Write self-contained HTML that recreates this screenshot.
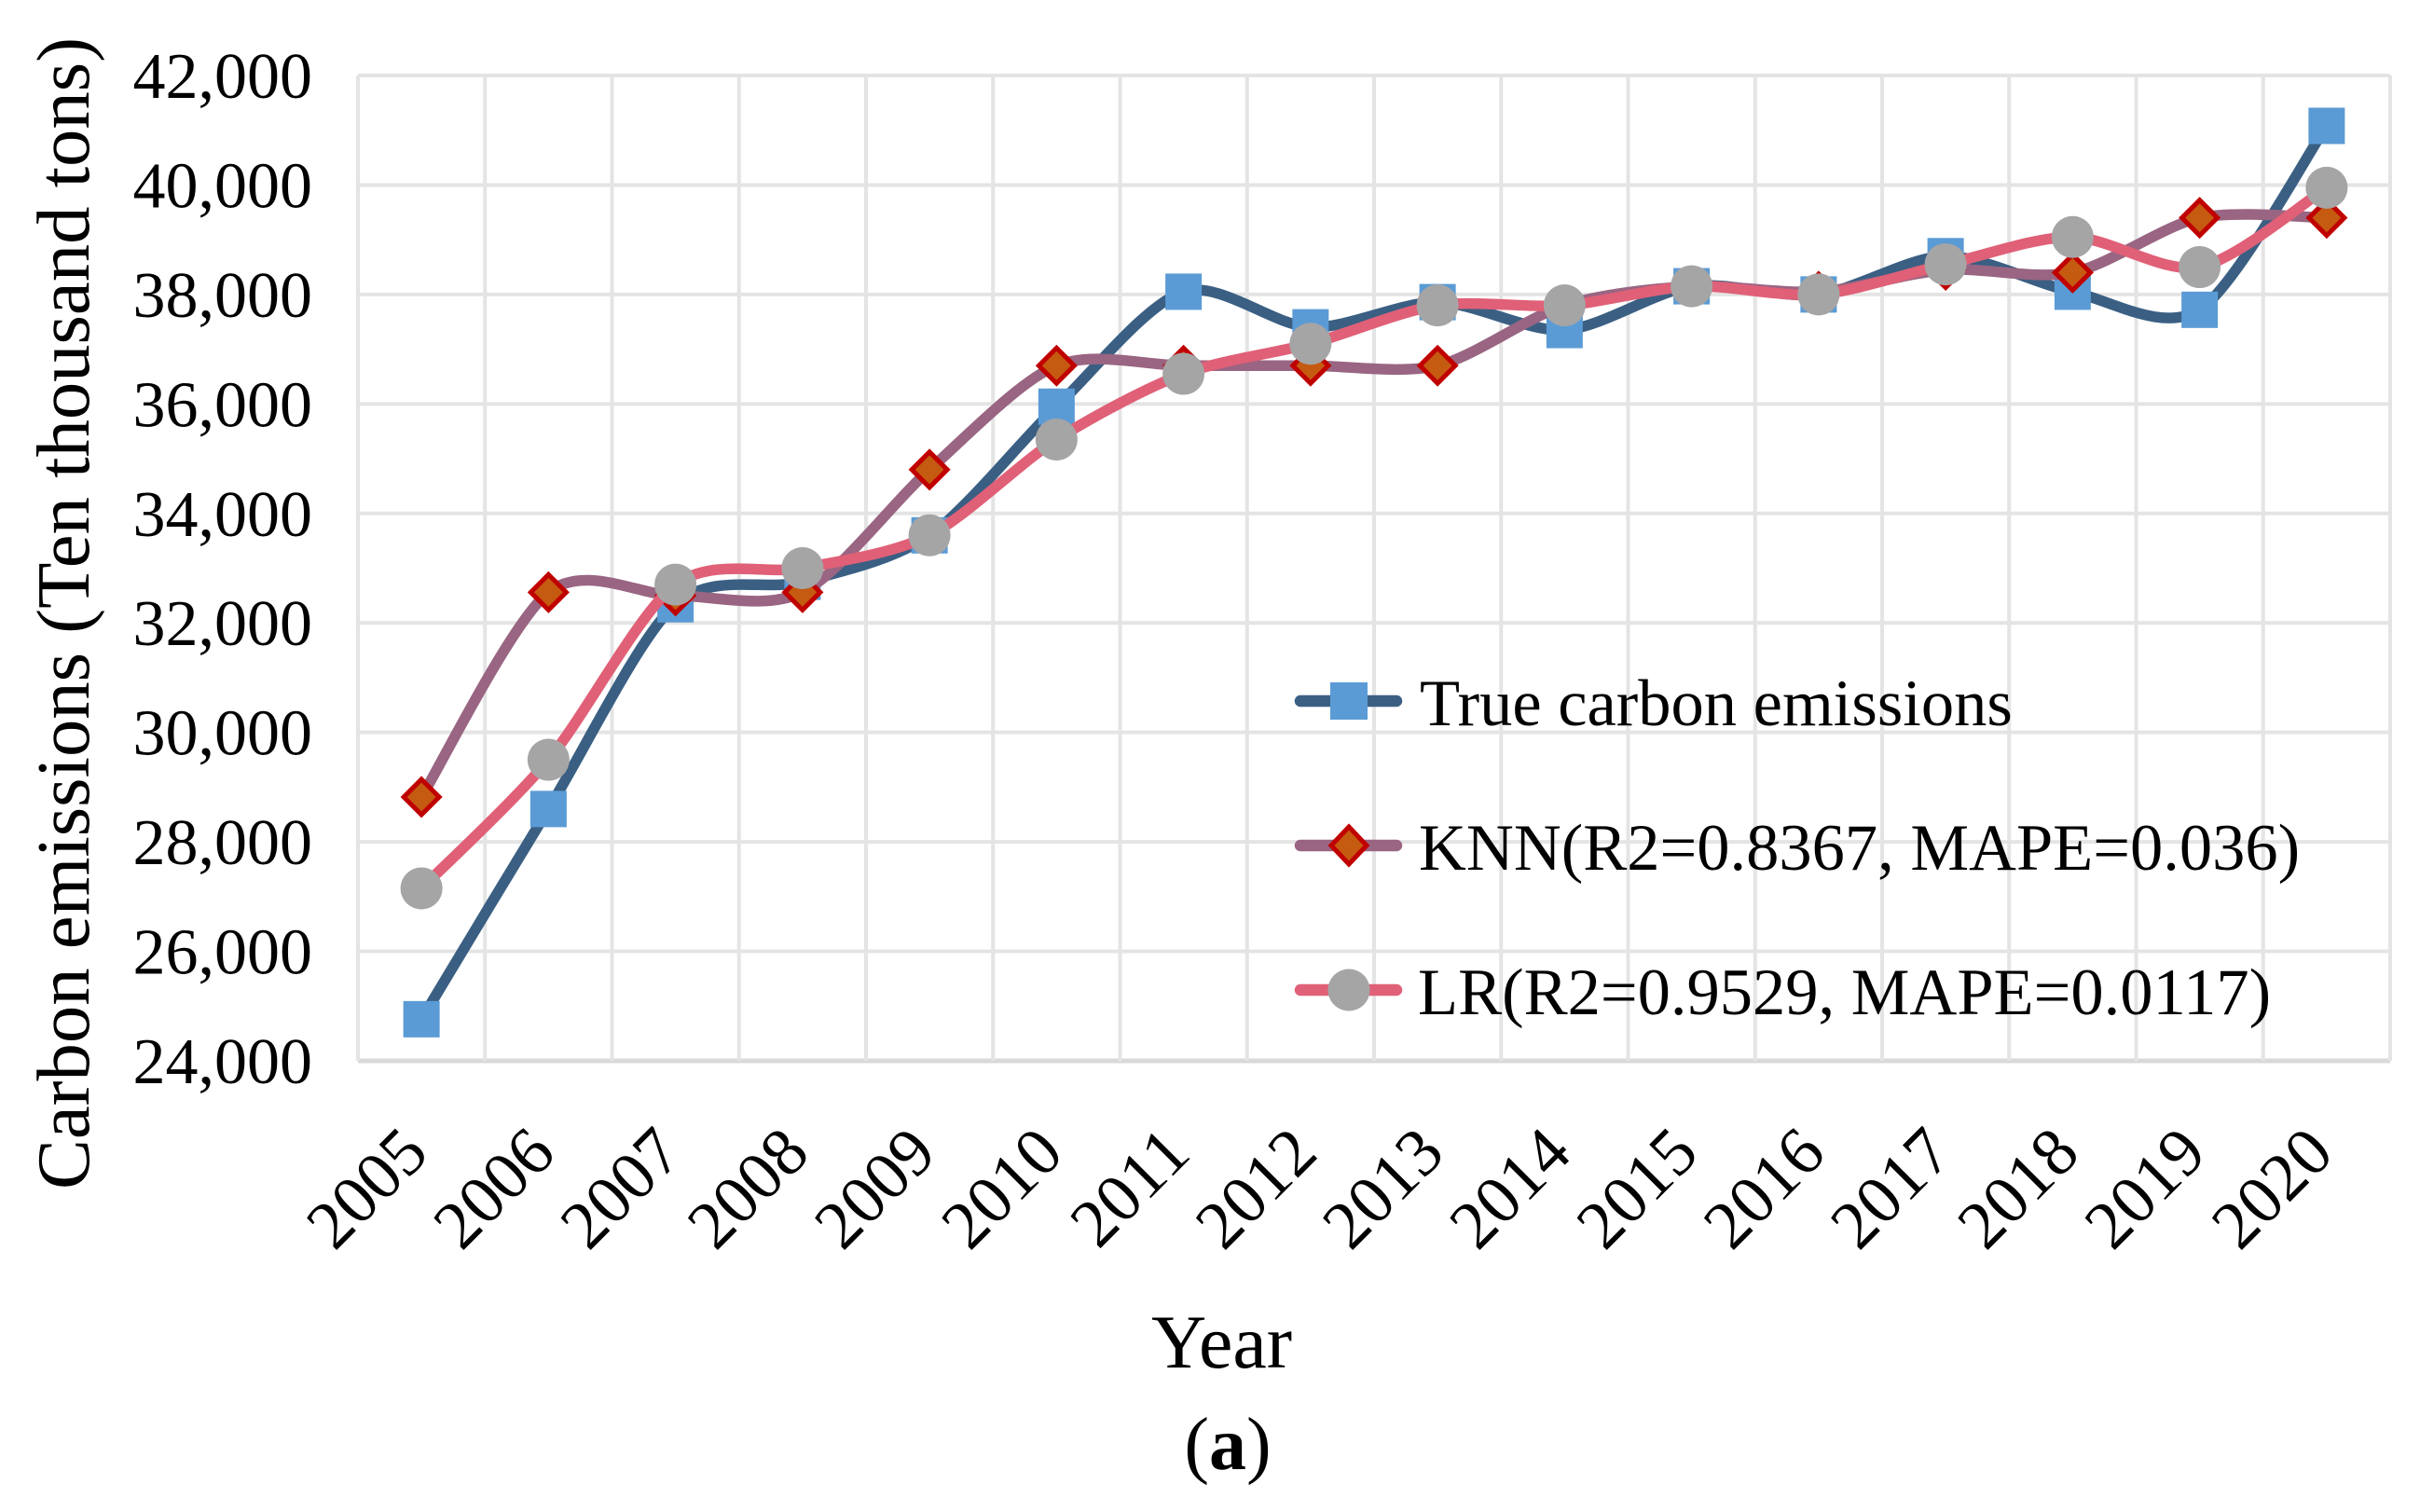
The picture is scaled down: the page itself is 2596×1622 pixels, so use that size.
<!DOCTYPE html>
<html lang="en">
<head>
<meta charset="utf-8">
<title>Carbon emissions chart</title>
<style>
html,body{margin:0;padding:0;background:#fff;}
svg{display:block;}
text{font-family:"Liberation Serif",serif;fill:#000;}
</style>
</head>
<body>
<svg id="chart" xmlns="http://www.w3.org/2000/svg" width="2596" height="1622" viewBox="0 0 2596 1622">
  <rect x="0" y="0" width="2596" height="1622" fill="#ffffff"/>
  <g id="grid"></g>
  <g id="ticks"></g>
  <g id="series"></g>
  <text transform="translate(95,658) rotate(-90)" text-anchor="middle" font-size="80.7">Carbon emissions (Ten thousand tons)</text>
  <text x="1310.5" y="1467" text-anchor="middle" font-size="82">Year</text>
  <text x="1317" y="1576" text-anchor="middle" font-size="80">(<tspan font-weight="bold">a</tspan>)</text>
  <g>
    <g>
      <line x1="1395" y1="752" x2="1498" y2="752" stroke="#3a5f83" stroke-width="12.5" stroke-linecap="round"/>
      <rect x="1427" y="732" width="40" height="40" fill="#5b9bd5"/>
      <text x="1523" y="778" font-size="70.5">True carbon emissions</text>
    </g>
    <g>
      <line x1="1395" y1="907" x2="1498" y2="907" stroke="#996582" stroke-width="12.5" stroke-linecap="round"/>
      <polygon points="1447,887 1466,907 1447,927 1428,907" fill="#c55a11" stroke="#c00000" stroke-width="5"/>
      <text x="1522" y="933" font-size="70.5">KNN(R2=0.8367, MAPE=0.036)</text>
    </g>
    <g>
      <line x1="1395" y1="1062" x2="1498" y2="1062" stroke="#e06077" stroke-width="12.5" stroke-linecap="round"/>
      <circle cx="1447" cy="1062" r="22.5" fill="#a5a5a5"/>
      <text x="1521" y="1088" font-size="70.5">LR(R2=0.9529, MAPE=0.0117)</text>
    </g>
  </g>
</svg>
<script>
const categories = ["2005","2006","2007","2008","2009","2010","2011","2012","2013","2014","2015","2016","2017","2018","2019","2020"];
const yTickLabels = [24000,26000,28000,30000,32000,34000,36000,38000,40000,42000];
const trueValues = [24760,28600,32340,32750,33600,35950,38050,37400,37860,37350,38150,38000,38700,38050,37720,41080];
const knnValues = [28820,32560,32500,32560,34800,36700,36700,36700,36700,37800,38150,38050,38450,38400,39400,39400];
const lrValues = [27150,29500,32700,33000,33600,35350,36550,37100,37800,37800,38150,38000,38550,39050,38500,39950];

const NS = "http://www.w3.org/2000/svg";
const plot = {left:384, right:2564, top:81, bottom:1138};
const yMin = yTickLabels[0];
const yMax = yTickLabels[yTickLabels.length - 1];

function xScale(i) {
  return plot.left + (i + 0.5) * (plot.right - plot.left) / categories.length;
}
function yScale(v) {
  return plot.bottom - (v - yMin) * (plot.bottom - plot.top) / (yMax - yMin);
}
function make(tag, attrs) {
  const el = document.createElementNS(NS, tag);
  for (const k in attrs) el.setAttribute(k, attrs[k]);
  return el;
}
function smoothPath(values) {
  const pts = values.map((v, i) => [xScale(i), yScale(v)]);
  const t = 7;
  let d = "M" + pts[0][0] + " " + pts[0][1];
  for (let i = 0; i < pts.length - 1; i++) {
    const p0 = pts[Math.max(i - 1, 0)];
    const p1 = pts[i];
    const p2 = pts[i + 1];
    const p3 = pts[Math.min(i + 2, pts.length - 1)];
    const c1x = p1[0] + (p2[0] - p0[0]) / t;
    const c1y = p1[1] + (p2[1] - p0[1]) / t;
    const c2x = p2[0] - (p3[0] - p1[0]) / t;
    const c2y = p2[1] - (p3[1] - p1[1]) / t;
    d += " C" + c1x + " " + c1y + " " + c2x + " " + c2y + " " + p2[0] + " " + p2[1];
  }
  return d;
}

const gridG = document.getElementById("grid");
const ticksG = document.getElementById("ticks");
const seriesG = document.getElementById("series");

yTickLabels.forEach((v) => {
  const y = yScale(v);
  const line = make("line", {x1: plot.left, x2: plot.right, y1: y, y2: y, stroke: v === yMin ? "#d9d9d9" : "#e4e4e4", "stroke-width": v === yMin ? 5 : 4});
  
  
  gridG.appendChild(line);
  const label = make("text", {x: 335, y: y + 24, "text-anchor": "end", "font-size": 70});
  label.textContent = v.toLocaleString("en-US");
  
  
  ticksG.appendChild(label);
});

for (let i = 0; i <= categories.length; i++) {
  const x = plot.left + i * (plot.right - plot.left) / categories.length;
  const line = make("line", {x1: x, x2: x, y1: plot.top, y2: plot.bottom, stroke: "#e4e4e4", "stroke-width": 4});
  
  
  gridG.appendChild(line);
}

categories.forEach((c, i) => {
  const x = xScale(i) + 10;
  const y = 1240;
  const label = make("text", {x: x, y: y, "text-anchor": "end", "font-size": 73, transform: "rotate(-45 " + x + " " + y + ")"});
  label.textContent = c;
  
  
  ticksG.appendChild(label);
});

function addLine(values, color) {
  const path = make("path", {d: smoothPath(values), fill: "none", stroke: color, "stroke-width": 11.5, "stroke-linecap": "round", "stroke-linejoin": "round"});
  
  
  seriesG.appendChild(path);
}

addLine(trueValues, "#3a5f83");
trueValues.forEach((v, i) => {
  const m = make("rect", {x: xScale(i) - 19.5, y: yScale(v) - 19.5, width: 39, height: 39, fill: "#5b9bd5"});
  
  
  seriesG.appendChild(m);
});

addLine(knnValues, "#996582");
knnValues.forEach((v, i) => {
  const cx = xScale(i);
  const cy = yScale(v);
  const r = 19;
  const m = make("polygon", {points: cx + "," + (cy - r) + " " + (cx + r) + "," + cy + " " + cx + "," + (cy + r) + " " + (cx - r) + "," + cy, fill: "#c55a11", stroke: "#c00000", "stroke-width": 5});
  
  
  seriesG.appendChild(m);
});

addLine(lrValues, "#e06077");
lrValues.forEach((v, i) => {
  const m = make("circle", {cx: xScale(i), cy: yScale(v), r: 22.5, fill: "#a5a5a5"});
  
  
  seriesG.appendChild(m);
});
</script>
</body>
</html>
